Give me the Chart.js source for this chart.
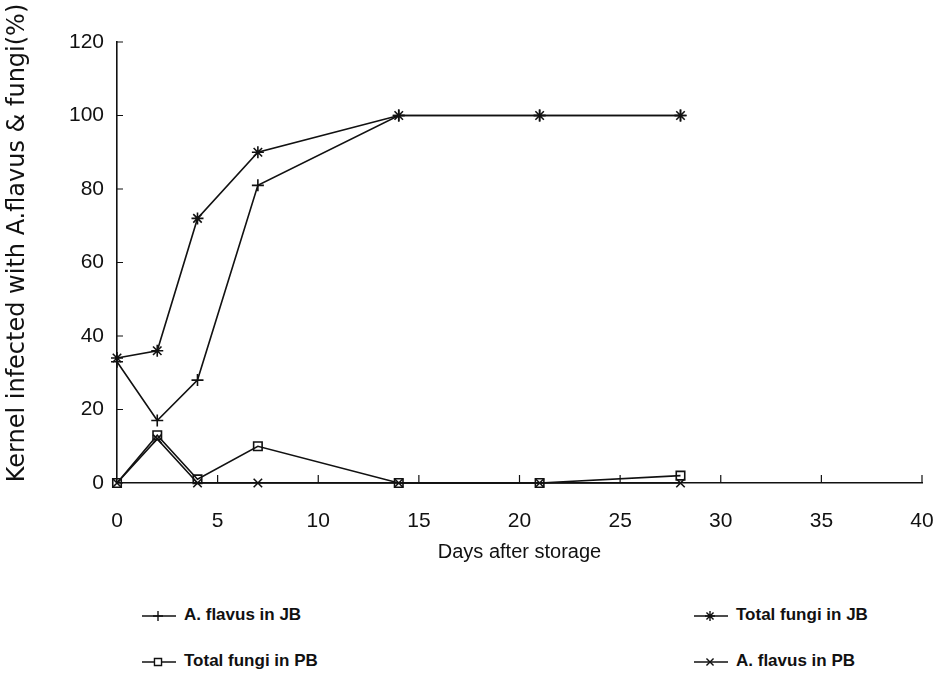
<!DOCTYPE html>
<html>
<head>
<meta charset="utf-8">
<script src="https://cdn.jsdelivr.net/npm/chart.js@4.4.1/dist/chart.umd.min.js"></script>
<style>
  html, body { margin: 0; padding: 0; background: #fff; }
  #wrap { position: relative; width: 943px; height: 685px; }
  #chart { position: absolute; left: 0; top: 0; }
  .leg { position: absolute; font-family: "Liberation Sans Narrow", "Liberation Sans", sans-serif;
         font-weight: bold; font-size: 17px; color: #111; white-space: nowrap; }
  .leg canvas { vertical-align: middle; margin-right: 8px; }
</style>
</head>
<body>
<div id="wrap">
  <canvas id="chart" width="943" height="570"></canvas>
</div>
<script>
// storage days
const DAYS = [0, 2, 4, 7, 14, 21, 28];

// kernels infected (%)
const FLAVUS_JB = [33, 17, 28, 81, 100, 100, 100];
const FUNGI_JB = [34, 36, 72, 90, 100, 100, 100];
const FUNGI_PB = [0, 13, 1, 10, 0, 0, 2];
const FLAVUS_PB = [0, 12, 0, 0, 0, 0, 0];

const X_TICKS = [0, 5, 10, 15, 20, 25, 30, 35, 40];
const Y_TICKS = [0, 20, 40, 60, 80, 100, 120];

const Y_TITLE = 'Kernel infected with A.flavus & fungi(%)';
const X_TITLE = 'Days after storage';

const SERIES = [
  { label: 'A. flavus in JB', values: FLAVUS_JB, style: 'cross', col: 0, row: 0 },
  { label: 'Total fungi in JB', values: FUNGI_JB, style: 'star', col: 1, row: 0 },
  { label: 'Total fungi in PB', values: FUNGI_PB, style: 'rect', col: 0, row: 1 },
  { label: 'A. flavus in PB', values: FLAVUS_PB, style: 'crossRot', col: 1, row: 1 }
];

const INK = '#111';
const TICK_FONT = { family: '"Liberation Sans", Arial, sans-serif', size: 21 };

function toPoints(values) {
  return DAYS.map((d, i) => ({ x: d, y: values[i] }));
}

// little inward tick marks, placed through the scales
const innerTicks = {
  id: 'innerTicks',
  afterDraw(chart) {
    const ctx = chart.ctx;
    const xs = chart.scales.x, ys = chart.scales.y;
    ctx.save();
    ctx.strokeStyle = INK;
    ctx.lineWidth = 1.2;
    ctx.beginPath();
    Y_TICKS.forEach(v => {
      const py = ys.getPixelForValue(v);
      ctx.moveTo(xs.left, py);
      ctx.lineTo(xs.left + 6, py);
    });
    X_TICKS.slice(1).forEach(v => {
      const px = xs.getPixelForValue(v);
      ctx.moveTo(px, ys.bottom);
      ctx.lineTo(px, ys.bottom - 8);
    });
    ctx.stroke();

    // y title sits a bit higher than the plot centre in the original
    ctx.fillStyle = INK;
    ctx.font = '24px "DejaVu Sans", sans-serif';
    ctx.textAlign = 'center';
    ctx.textBaseline = 'middle';
    ctx.translate(18, 243);
    ctx.rotate(-Math.PI / 2);
    ctx.fillText(Y_TITLE, 0, 0);
    ctx.restore();
  }
};

new Chart(document.getElementById('chart'), {
  type: 'line',
  data: {
    datasets: SERIES.map(s => ({
      label: s.label,
      data: toPoints(s.values),
      borderColor: INK,
      borderWidth: 1.6,
      backgroundColor: '#fff',
      pointStyle: s.style,
      pointRadius: 6,
      pointBorderWidth: 1.6,
      pointBorderColor: INK,
      pointBackgroundColor: s.style === 'rect' ? 'rgba(255,255,255,0)' : INK,
      tension: 0,
      clip: false
    }))
  },
  options: {
    responsive: false,
    animation: false,
    layout: { padding: { top: 42, right: 21, left: 0, bottom: 0 } },
    plugins: { legend: { display: false }, tooltip: { enabled: false } },
    scales: {
      x: {
        type: 'linear',
        min: 0,
        max: 40,
        afterBuildTicks: axis => { axis.ticks = X_TICKS.map(v => ({ value: v })); },
        grid: { display: false, drawTicks: false },
        border: { color: INK, width: 1.6 },
        ticks: { color: INK, font: TICK_FONT, padding: 26 },
        title: {
          display: true,
          text: X_TITLE,
          color: INK,
          font: { family: '"Liberation Sans", Arial, sans-serif', size: 20 },
          padding: { top: 0, bottom: 6 }
        },
        afterFit: axis => {
          axis.height = 87;
          axis.paddingLeft = 0;
          axis.paddingRight = 0;
        }
      },
      y: {
        min: 0,
        max: 120,
        afterBuildTicks: axis => { axis.ticks = Y_TICKS.map(v => ({ value: v })); },
        grid: { display: false, drawTicks: false },
        border: { color: INK, width: 1.6 },
        ticks: { color: INK, font: TICK_FONT, padding: 13 },
        afterFit: axis => {
          axis.width = 117;
          axis.paddingTop = 0;
          axis.paddingBottom = 0;
        }
      }
    }
  },
  plugins: [innerTicks]
});

// legend in two columns below the plot
const LEG_COLS = [142, 694];
const LEG_ROWS = [605, 651];
SERIES.forEach(s => {
  const div = document.createElement('div');
  div.className = 'leg';
  div.style.left = LEG_COLS[s.col] + 'px';
  div.style.top = LEG_ROWS[s.row] + 'px';
  const c = document.createElement('canvas');
  c.width = 34; c.height = 20;
  const g = c.getContext('2d');
  g.strokeStyle = INK; g.fillStyle = '#fff'; g.lineWidth = 1.4;
  g.beginPath(); g.moveTo(0, 10); g.lineTo(34, 10); g.stroke();
  Chart.helpers.drawPoint(g, { pointStyle: s.style, radius: 5, borderWidth: 1.4 }, 16, 10);
  div.appendChild(c);
  div.appendChild(document.createTextNode(s.label));
  document.getElementById('wrap').appendChild(div);
});
</script>
</body>
</html>
